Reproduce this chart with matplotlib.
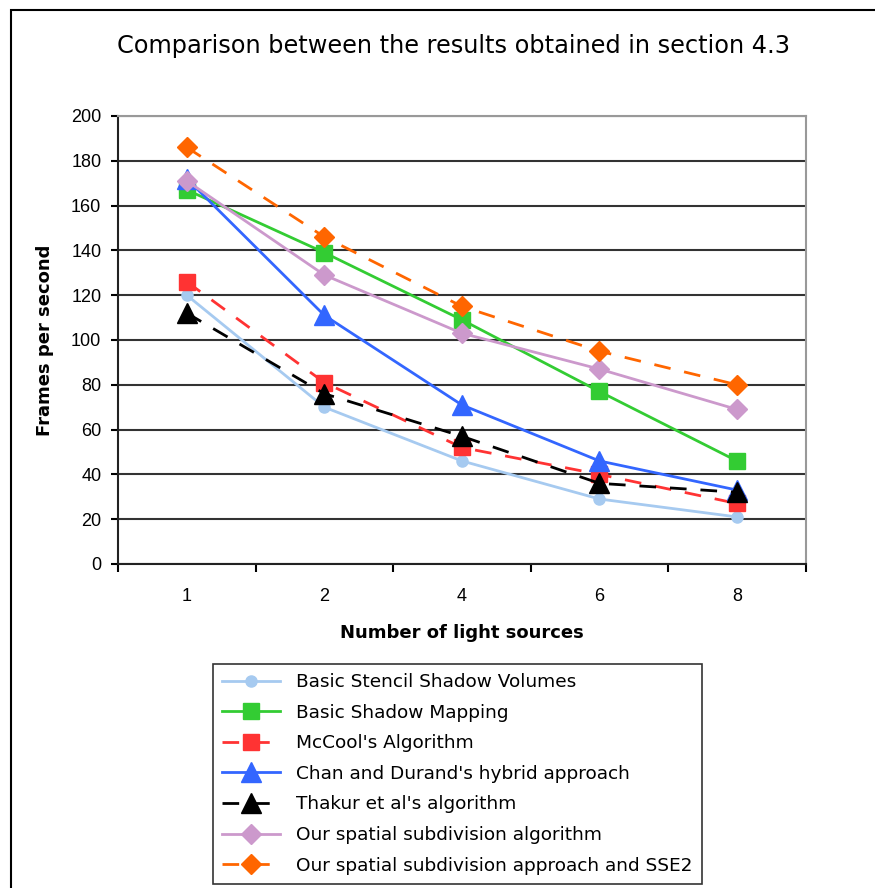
import matplotlib.pyplot as plt
import matplotlib.patches as mpatches
import numpy as np

plt.rcParams['font.family'] = ['Liberation Sans', 'DejaVu Sans']

light_sources = ['1', '2', '4', '6', '8']

stencil = [120, 70, 46, 29, 21]
shadow_mapping = [167, 139, 109, 77, 46]
mccool = [126, 81, 52, 40, 27]
chan_durand = [172, 111, 71, 46, 33]
thakur = [112, 76, 57, 36, 32]
spatial = [171, 129, 103, 87, 69]
spatial_sse2 = [186, 146, 115, 95, 80]

dash = (0, (6, 5))
series = [
    ('Basic Stencil Shadow Volumes', stencil, '#a6caf0', '-', 'o', 8),
    ('Basic Shadow Mapping', shadow_mapping, '#33cc33', '-', 's', 11),
    ("McCool's Algorithm", mccool, '#ff3333', dash, 's', 11),
    ("Chan and Durand's hybrid approach", chan_durand, '#3366ff', '-', '^', 15),
    ("Thakur et al's algorithm", thakur, 'black', dash, '^', 15),
    ('Our spatial subdivision algorithm', spatial, '#cc99cc', '-', 'D', 10),
    ('Our spatial subdivision approach and SSE2', spatial_sse2, '#ff6600', dash, 'D', 10),
]

fig = plt.figure(figsize=(8.75, 8.88), dpi=100)
ax = fig.add_axes([0.1349, 0.3649, 0.7859, 0.5045])

x = np.arange(len(light_sources))
for name, vals, col, ls, mk, ms in series:
    ax.plot(x, vals, color=col, linestyle=ls, linewidth=2, marker=mk,
            markersize=ms, markeredgecolor=col, label=name, clip_on=False)

ax.set_xlim(-0.5, len(light_sources) - 0.5)
ax.set_ylim(0, 200)
ax.set_yticks(np.arange(0, 201, 20))
ax.set_xticks(x)
ax.set_xticklabels(light_sources)
ax.set_xticks(np.arange(-0.5, len(light_sources)), minor=True)
ax.tick_params(axis='x', which='major', length=0, pad=17, labelsize=13)
ax.tick_params(axis='x', which='minor', length=6, width=1.5, direction='out')
ax.tick_params(axis='y', length=5, width=1.5, direction='out', labelsize=13, pad=7)

ax.yaxis.grid(True, color='#333333', linewidth=1.5)
ax.set_axisbelow(True)
for side in ['left', 'bottom']:
    ax.spines[side].set_color('#222222')
    ax.spines[side].set_linewidth(1.5)
for side in ['top', 'right']:
    ax.spines[side].set_color('#999999')
    ax.spines[side].set_linewidth(1.5)

ax.set_xlabel('Number of light sources', fontsize=13, fontweight='bold',
              family='DejaVu Sans', labelpad=14)
ax.set_ylabel('Frames per second', fontsize=13, fontweight='bold',
              family='DejaVu Sans', labelpad=12)
fig.text(0.518, 0.948, 'Comparison between the results obtained in section 4.3',
         ha='center', va='center', fontsize=17.3, fontweight='medium',
         family='DejaVu Sans')

leg = fig.legend(loc='upper left', bbox_to_anchor=(213 / 875, 1 - 664 / 888),
                 prop={'family': 'DejaVu Sans', 'size': 13.3},
                 frameon=True, fancybox=False, edgecolor='black',
                 handlelength=3.1, labelspacing=0.68, borderpad=0.5,
                 handletextpad=0.9, borderaxespad=0)
leg.get_frame().set_linewidth(1.2)

# outer chart border
fig.patches.append(mpatches.Rectangle((11 / 875, -0.1), 1.2, 1.1 - 10 / 888,
                                      transform=fig.transFigure, fill=False,
                                      edgecolor='black', linewidth=1.5))

fig.savefig('out.png', dpi=100)
